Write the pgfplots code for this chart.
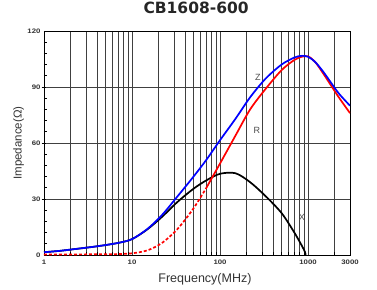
\documentclass[border=0pt]{standalone}
\usepackage{fontspec}
\setmainfont{Liberation Sans}
\newfontfamily\titlefont{DejaVu Sans}
\newfontfamily\tickfont[FakeStretch=1.2]{Liberation Sans}
\usepackage{pgfplots}
\pgfplotsset{compat=1.18}
\begin{document}
\begin{tikzpicture}[x=1pt,y=1pt]
\useasboundingbox (0,0) rectangle (377,289);
\begin{axis}[
  at={(44pt,34pt)}, anchor=south west,
  scale only axis, width=306pt, height=224pt,
  xmode=log, xmin=1, xmax=3000, ymin=0, ymax=120,
  xtick={1,10,100,1000,3000},
  xticklabels={1,10,100,1000,3000},
  minor xtick={2,3,4,5,6,7,8,9,20,30,40,50,60,70,80,90,200,300,400,500,600,700,800,900,2000},
  ytick={0,30,60,90,120},
  minor ytick={6,12,18,24,36,42,48,54,66,72,78,84,96,102,108,114},
  xmajorgrids, xminorgrids, ymajorgrids,
  major grid style={draw=black!75, line width=0.75pt},
  minor grid style={draw=black!75, line width=0.75pt},
  axis line style={black, line width=0.9pt},
  tick style={black, line width=0.7pt},
  xtick pos=bottom, ytick pos=left,
  tick align=inside,
  major tick length=0pt,
  minor tick length=3.5pt,
  extra y ticks={30,60,90},
  extra y tick labels={},
  extra y tick style={tick align=center, major tick length=5pt, grid=none},
  /pgf/number format/assume math mode=true,
  ticklabel style={font=\tickfont\bfseries\fontsize{6.5}{7}\selectfont, text=black!80},
  xticklabel style={yshift=-1pt},
  xlabel={Frequency(MHz)},
  ylabel={Impedance(Ω)},
  xlabel style={font=\fontsize{12.5}{13}\selectfont, text=black!80, at={(axis description cs:0.526,-0.107)}, anchor=center},
  ylabel style={font=\fontsize{11.5}{12}\selectfont, text=black!80, at={(axis description cs:-0.083,0.5)}, anchor=center},
  title={CB1608-600},
  title style={font=\titlefont\bfseries\fontsize{15.5}{17}\selectfont, text=black!85, at={(axis description cs:0.497,1.076)}, anchor=center},
  clip=true,
]
% X (reactance)
\addplot[black, line width=1.7pt, smooth] coordinates {
(1,1.5) (1.5,2.2) (2,2.9) (3,3.9) (4.5,5.0) (7,6.5) (10,8.5) (15,13.8) (22,20.5) (33,28.5) (50,35.5) (70,40) (100,43.5) (150,43.8) (220,39) (330,31.5) (500,22.5) (700,12) (900,2.8) (940,0)
};
% R dashed part
\addplot[red, line width=1.7pt, densely dashed, smooth] coordinates {
(1,0.3) (1.5,0.3) (2,0.3) (3,0.35) (4.5,0.4) (7,0.5) (10,0.9) (15,2.5) (22,6.5) (33,14) (50,25) (70,36)
};
% R solid part
\addplot[red, line width=1.7pt, smooth] coordinates {
(70,36) (100,49) (150,64) (220,78) (330,89) (500,99) (700,104.5) (850,106.2) (1000,106.4) (1200,103.5) (1500,97) (2200,85) (3000,76)
};
% Z
\addplot[blue, line width=1.7pt, smooth] coordinates {
(1,1.5) (1.5,2.2) (2,2.9) (3,3.9) (4.5,5.0) (7,6.5) (10,8.5) (15,14) (22,21.5) (33,31.5) (50,42) (70,51) (100,61.5) (150,73) (220,84.5) (330,94.5) (500,102) (700,105.8) (850,106.7) (1000,106.2) (1200,103.5) (1500,98) (2200,87) (3000,80)
};
\node[font=\fontsize{9}{10}\selectfont, text=black!70] at (axis cs:270,95) {Z};
\node[font=\fontsize{9}{10}\selectfont, text=black!70] at (axis cs:263,67) {R};
\node[font=\fontsize{9}{10}\selectfont, text=black!70] at (axis cs:850,20) {X};
\end{axis}
\end{tikzpicture}
\end{document}
